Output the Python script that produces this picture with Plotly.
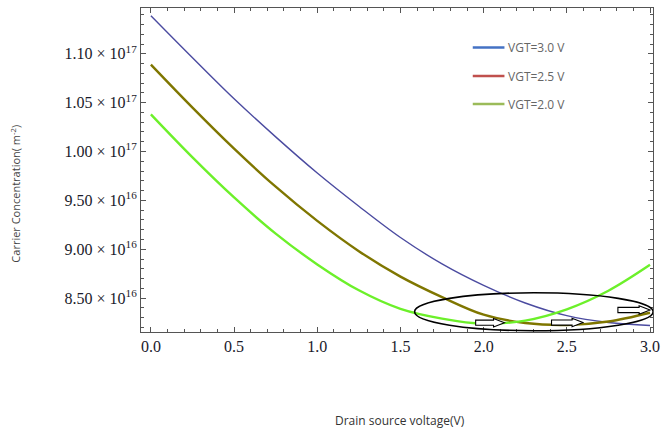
import numpy as np
import plotly.graph_objects as go

# Drain-source voltage (V)
vds = [0.0, 0.25, 0.5, 0.75, 1.0, 1.25, 1.5, 1.75, 2.0, 2.25, 2.5, 2.75, 3.0]

# Carrier concentration, in units of 1e16 m^-2
n_vgt30 = [11.39, 10.96, 10.54, 10.15, 9.78, 9.44, 9.12, 8.85, 8.63, 8.45, 8.32, 8.25, 8.22]
n_vgt25 = [10.89, 10.45, 10.03, 9.64, 9.29, 8.98, 8.72, 8.51, 8.33, 8.245, 8.225, 8.26, 8.35]
n_vgt20 = [10.38, 9.94, 9.53, 9.16, 8.845, 8.58, 8.39, 8.29, 8.238, 8.27, 8.385, 8.575, 8.84]

legend_labels = ["VGT=3.0 V", "VGT=2.5 V", "VGT=2.0 V"]
legend_colors = ["#4472C4", "#C0504D", "#9BBB59"]

# y ticks (units of 1e16) and their labels
y_ticks = [8.5, 9.0, 9.5, 10.0, 10.5, 11.0]
y_tick_text = ["8.50 × 10<sup>16</sup>", "9.00 × 10<sup>16</sup>", "9.50 × 10<sup>16</sup>",
               "1.00 × 10<sup>17</sup>", "1.05 × 10<sup>17</sup>", "1.10 × 10<sup>17</sup>"]
x_ticks = [0.0, 0.5, 1.0, 1.5, 2.0, 2.5, 3.0]
x_tick_text = ["0.0", "0.5", "1.0", "1.5", "2.0", "2.5", "3.0"]

# Highlighted minimum region (ellipse) and block arrows
ellipse_x = [1.585, 3.019]
ellipse_y = [8.166, 8.554]
arrow_start = [1.952, 2.408, 2.807]
arrow_end = [2.125, 2.597, 3.0]
arrow_y = [8.248, 8.250, 8.378]

SCALE = 1e16
x_range = [-0.0595, 3.018]
y_range = [8.153 * SCALE, 11.469 * SCALE]

L, R, T, B = 141, 9, 7, 100
W, H = 667, 432
pw, ph = W - L - R, H - T - B
dx_px = (x_range[1] - x_range[0]) / pw
dy_px = (y_range[1] - y_range[0]) / ph

fig = go.Figure()

series = [
    (n_vgt30, "#4B4BA0", 1.4),
    (n_vgt25, "#7F7600", 2.4),
    (n_vgt20, "#6CF02A", 2.4),
]
for vals, color, width in series:
    fig.add_trace(go.Scatter(
        x=vds, y=np.array(vals) * SCALE, mode="lines",
        line=dict(color=color, width=width, shape="spline", smoothing=1.0),
        showlegend=False, hoverinfo="skip",
    ))

shapes = []
shapes.append(dict(
    type="circle", xref="x", yref="y",
    x0=ellipse_x[0], x1=ellipse_x[1],
    y0=ellipse_y[0] * SCALE, y1=ellipse_y[1] * SCALE,
    line=dict(color="black", width=1.6), layer="above",
))

# block arrows: rectangular body and triangular head
body_h = 2.6 * dy_px
head_h = 4.2 * dy_px
head_len = 11 * dx_px
for xs, xe, yc in zip(arrow_start, arrow_end, arrow_y):
    yc = yc * SCALE
    xb = xe - head_len
    path = (f"M {xs},{yc - body_h} L {xb},{yc - body_h} L {xb},{yc - head_h} "
            f"L {xe},{yc} L {xb},{yc + head_h} L {xb},{yc + body_h} "
            f"L {xs},{yc + body_h} Z")
    shapes.append(dict(type="path", xref="x", yref="y", path=path,
                       fillcolor="white", line=dict(color="black", width=1.1),
                       layer="above"))

# legend drawn as line samples with labels
leg_x0 = (476 - L) / pw
leg_x1 = (508 - L) / pw
leg_tx = (510 - L) / pw
leg_rows_px = [46.7, 75.3, 103.3]
annotations = []
for lab, col, ypx in zip(legend_labels, legend_colors, leg_rows_px):
    yp = (H - B - ypx) / ph
    shapes.append(dict(type="line", xref="paper", yref="paper",
                       x0=leg_x0, x1=leg_x1, y0=yp, y1=yp,
                       line=dict(color=col, width=2.5)))
    annotations.append(dict(xref="paper", yref="paper", x=leg_tx, y=yp,
                            text=lab, showarrow=False, xanchor="left",
                            yanchor="middle",
                            font=dict(family="Open Sans", size=12,
                                      color="#666666")))

annotations.append(dict(
    xref="paper", yref="paper", x=(403 - L) / pw, y=(H - B - 421) / ph,
    text="Drain source voltage(V)", showarrow=False,
    xanchor="center", yanchor="middle",
    font=dict(family="Open Sans", size=12, color="#333333")))
annotations.append(dict(
    xref="paper", yref="paper", x=(15 - L) / pw, y=(H - B - 193) / ph,
    text="Carrier Concentration( m<sup>-2</sup>)", showarrow=False,
    textangle=-90, xanchor="center", yanchor="middle",
    font=dict(family="Open Sans", size=11, color="#444444")))

axis_common = dict(
    showline=True, linecolor="#555555", linewidth=1, mirror="ticks",
    ticks="inside", ticklen=5, tickwidth=1, tickcolor="#555555",
    showgrid=False, zeroline=False,
    tickfont=dict(family="Liberation Serif", size=16, color="#1a1a2a"),
)

fig.update_layout(
    width=W, height=H,
    margin=dict(l=L, r=R, t=T, b=B),
    paper_bgcolor="white", plot_bgcolor="white",
    xaxis=dict(range=x_range, tickvals=x_ticks, ticktext=x_tick_text,
               minor=dict(dtick=0.1, tick0=0, ticks="inside", ticklen=3,
                          tickcolor="#555555"),
               **axis_common),
    yaxis=dict(range=y_range, tickvals=[v * SCALE for v in y_ticks],
               ticktext=y_tick_text,
               minor=dict(dtick=0.1 * SCALE, tick0=0, ticks="inside",
                          ticklen=3, tickcolor="#555555"),
               **axis_common),
    shapes=shapes, annotations=annotations,
)

fig.write_html("out.html")
